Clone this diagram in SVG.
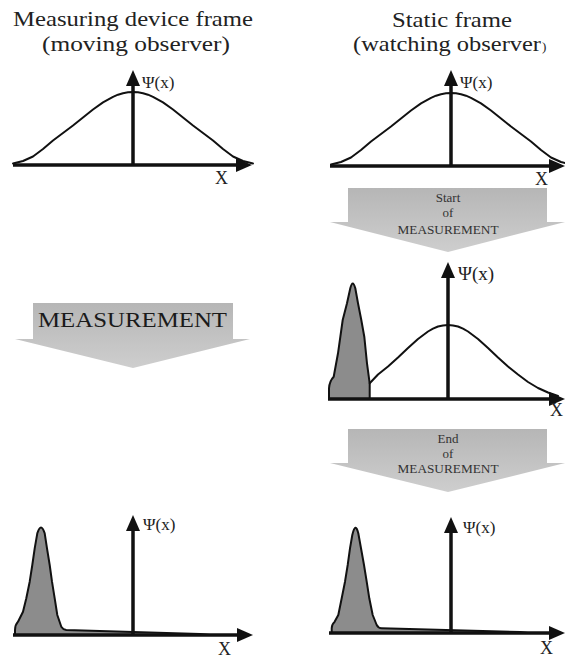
<svg xmlns="http://www.w3.org/2000/svg" xmlns:xlink="http://www.w3.org/1999/xlink" width="565" height="658" viewBox="0 0 565 658">
<style>
text{font-family:"Liberation Serif","Times New Roman",serif;fill:#222}
.title{font-size:21px}
.psi{font-size:17px}
.xl{font-size:18px}
.small{font-size:13px;fill:#333;text-anchor:middle}
.big{font-size:20px;fill:#1a1a1a}
.axis{stroke:#111;stroke-width:3.5;fill:none;marker-end:url(#ah)}
.curve{stroke:#111;stroke-width:2;fill:none;stroke-linejoin:round;stroke-linecap:round}
.peak{stroke:#111;stroke-width:2;fill:#8c8c8c;stroke-linejoin:round}
.blk{fill:url(#gg);stroke:none}
</style>
<defs>
<marker id="ah" viewBox="0 0 16 14" refX="8" refY="7" markerWidth="16" markerHeight="14" markerUnits="userSpaceOnUse" orient="auto">
<path d="M0,0 L16,7 L0,14 Z" fill="#111"/>
</marker>
<linearGradient id="gg" x1="0" y1="0" x2="0" y2="1">
<stop offset="0" stop-color="#b6b6b6"/>
<stop offset="1" stop-color="#cecece"/>
</linearGradient>
<polyline id="gauss" class="curve" points="-120,-1.5 -110,-4 -100,-8.5 -90,-16 -80,-24.5 -70,-32 -60,-39.5 -50,-47.5 -40,-55.5 -30,-62.6 -20,-68.2 -15,-70.3 -10,-71.8 -5,-72.7 0,-73 5,-72.7 10,-71.8 15,-70.3 20,-68.2 30,-62.6 40,-55.5 50,-47.5 60,-39.5 70,-32 80,-24.5 90,-16 100,-8.5 110,-4 120,-1.5"/>
</defs>

<g id="titles">
<text class="title" x="13" y="26" textLength="240" lengthAdjust="spacingAndGlyphs">Measuring device frame</text>
<text class="title" x="42" y="51" textLength="188" lengthAdjust="spacingAndGlyphs">(moving observer)</text>
<text class="title" x="392" y="26.5" textLength="120" lengthAdjust="spacingAndGlyphs">Static frame</text>
<text class="title" x="353" y="51" textLength="188" lengthAdjust="spacingAndGlyphs">(watching observer</text>
<text x="542" y="51" style="font-size:13px">)</text>
</g>

<g id="panel-moving-before">
<use xlink:href="#gauss" href="#gauss" x="133" y="165"/>
<path class="axis" d="M13,165 H244"/>
<path class="axis" d="M133,165 V78"/>
<text class="psi" x="142" y="88">Ψ(x)</text>
<text class="xl" x="215" y="184">X</text>
</g>

<g id="panel-static-before">
<use xlink:href="#gauss" href="#gauss" x="451" y="166"/>
<path class="axis" d="M330,166 H557"/>
<path class="axis" d="M451,166 V78"/>
<text class="psi" x="460" y="88">Ψ(x)</text>
<text class="xl" x="535" y="185">X</text>
</g>

<g id="panel-static-during">
<path class="peak" d="M329,399 L329,388.3 Q329.5,381 333.7,376.7 L338,353.3 L342.7,320 L347,303.3 L350.3,288.3 Q352.7,278.5 355.3,288.3 L358,303.3 L361.3,320 L364.3,336.7 L367,363.3 L369.7,383.3 L369.7,399 Z"/>
<polyline class="curve" points="369.7,383.3 378,374.5 388,366.5 398,357.5 408,348 418,339 428,331.5 433,328.7 438,326.5 443,325.4 448,325 453,325.4 458,326.5 463,328.7 468,331.5 478,339 488,348 498,357.5 508,366.5 518,374.5 528,382 538,388 548,392.5 558,396"/>
<path class="axis" d="M328,399 H557"/>
<path class="axis" d="M448,399 V270"/>
<text class="psi" x="458" y="279.5" style="font-size:19px">Ψ(x)</text>
<text class="xl" x="550" y="416">X</text>
</g>

<g id="panel-static-after">
<path class="peak" d="M331.7,633 L331.7,628.3 Q332,624 334.3,622.3 L338.3,615 L341.7,598.3 L345,581.7 L347.7,565 L350,548.3 L352.3,535 Q355.5,521.5 358.3,533.3 L361,548.3 L364,565 L366.7,581.7 L369.3,598.3 L372.7,615 L376.7,625 Q378.5,628.3 381.7,628.3 L520,632 L528,633 Z"/>
<path class="axis" d="M329,633 H557"/>
<path class="axis" d="M451,633 V525"/>
<text class="psi" x="463" y="533">Ψ(x)</text>
<text class="xl" x="540" y="654">X</text>
</g>

<g id="panel-moving-after">
<path class="peak" d="M15,635 L15,630 Q15,625 18,621.7 L23,611.7 L26.3,598.3 L29.7,581.7 L32.3,565 L34.7,548.3 L37.3,533.3 Q41,521.5 44.7,533.3 L47,548.3 L49.7,565 L52,581.7 L54.7,598.3 L57.3,615 L61.3,626.7 Q63,629.5 66.3,630 L200,634 L210,635 Z"/>
<path class="axis" d="M13,635 H245"/>
<path class="axis" d="M133,635 V523"/>
<text class="psi" x="143" y="530">Ψ(x)</text>
<text class="xl" x="218" y="655">X</text>
</g>

<g id="connectors">
<g id="arrow-measurement">
<path class="blk" d="M33,303 H233 V339 H250 L133,368 L15,339 H33 Z"/>
<text class="big" x="38" y="327" textLength="189" lengthAdjust="spacingAndGlyphs">MEASUREMENT</text>
</g>
<g id="arrow-start">
<path class="blk" d="M348,188 H547 V222 H565 L448,252 L330,222 H348 Z"/>
<text class="small" x="448" y="202">Start</text>
<text class="small" x="448" y="217">of</text>
<text class="small" x="448" y="234" textLength="101" lengthAdjust="spacingAndGlyphs">MEASUREMENT</text>
</g>
<g id="arrow-end">
<path class="blk" d="M348,429 H547 V463 H565 L448,492 L330,463 H348 Z"/>
<text class="small" x="448" y="442.5">End</text>
<text class="small" x="448" y="457.5">of</text>
<text class="small" x="448" y="473" textLength="101" lengthAdjust="spacingAndGlyphs">MEASUREMENT</text>
</g>
</g>
</svg>
